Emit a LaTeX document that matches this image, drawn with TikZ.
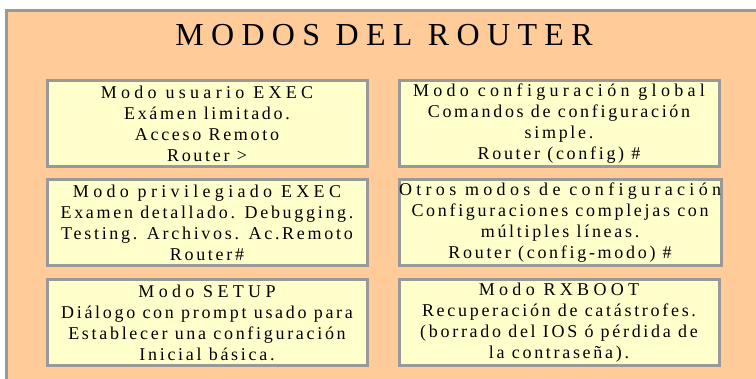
\documentclass[tikz,border=0pt]{standalone}
\usepackage{fontspec}
\setmainfont{Liberation Serif}
\newfontfamily\titlefont[LetterSpace=23]{Liberation Serif}
\newfontfamily\headfont[LetterSpace=24]{Liberation Serif}
\newfontfamily\modefont[LetterSpace=15]{Liberation Serif}
\newcommand{\modohead}[1]{{\headfont #1}}
\usepackage{xcolor}
\usepackage{tikz}
\usetikzlibrary{positioning}
\definecolor{panelpeach}{HTML}{FFCC99}
\definecolor{modeyellow}{HTML}{FFFFCC}
\definecolor{framegray}{HTML}{999999}

\begin{document}
\begin{tikzpicture}[
    x=1pt, y=-1pt,
    panel/.style={draw=framegray, line width=3pt, fill=panelpeach},
    heading/.style={font=\titlefont\fontsize{32}{36}\selectfont, inner sep=0pt},
    modebox/.style={rectangle, draw=framegray, line width=3pt, fill=modeyellow, minimum width=320pt, minimum height=86pt, inner sep=0pt, align=center, font=\modefont\fontsize{18}{21}\selectfont}
]
\useasboundingbox (0,0) rectangle (756,379);
\clip (0,0) rectangle (756,379);
\path[panel] (6.5,10.5) rectangle (780,400);
\node[heading] (titulo) at (384,35.5) {MODOS DEL ROUTER};
% left column
\node[modebox] (usuario) at (207,123.5) {\modohead{Modo usuario EXEC}\\Exámen limitado.\\Acceso Remoto\\Router >};
\node[modebox, below=10.5pt of usuario] (privilegiado) {\modohead{Modo privilegiado EXEC}\\Examen detallado. Debugging.\\Testing. Archivos. Ac.Remoto\\Router\#};
\node[modebox, below=10.5pt of privilegiado] (setup) {\modohead{Modo SETUP}\\Diálogo con prompt usado para\\Establecer una configuración\\Inicial básica.};
% right column
\node[modebox, right=29pt of usuario] (global) {\modohead{Modo configuración global}\\Comandos de configuración\\simple.\\Router (config) \#};
\node[modebox, right=29pt of privilegiado] (otros) {\modohead{Otros modos de configuración}\\Configuraciones complejas con\\múltiples líneas.\\Router (config-modo) \#};
\node[modebox, right=29pt of setup] (rxboot) {\modohead{Modo RXBOOT}\\Recuperación de catástrofes.\\(borrado del IOS ó pérdida de\\la contraseña).};
\end{tikzpicture}
\end{document}
